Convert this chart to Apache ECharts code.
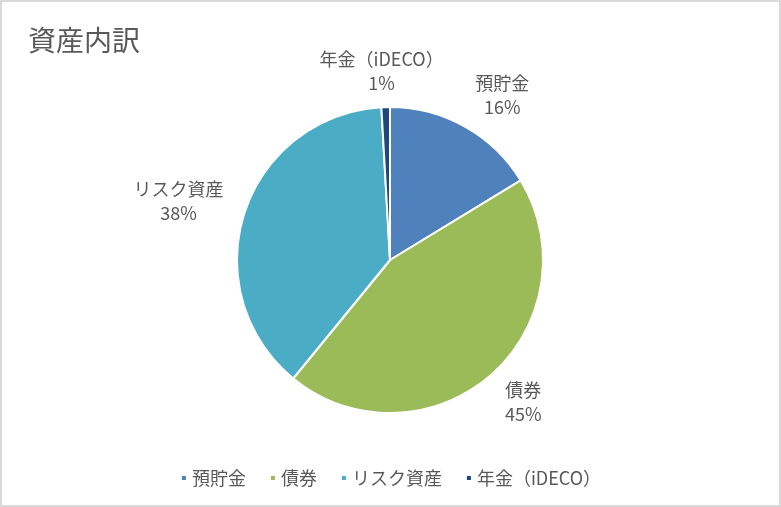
<!DOCTYPE html>
<html>
<head>
<meta charset="utf-8">
<script src="https://cdn.jsdelivr.net/npm/echarts@6/dist/echarts.min.js"></script>
<style>
  html, body { margin: 0; padding: 0; background: #fff; }
  #chart { width: 777px; height: 503px; border: 2px solid #d9d9d9; }
</style>
</head>
<body>
<div id="chart"></div>
<script>
// 資産内訳のデータ
const categories = ['預貯金', '債券', 'リスク資産', '年金（iDECO）'];
const values = [16.3, 44.6, 38.2, 0.9];
const colors = ['#4f81bd', '#9bbb59', '#4bacc6', '#1f497d'];

const font = '"Noto Sans CJK JP", "Noto Sans", sans-serif';
const cx = 388, cy = 258, r = 153;

const total = values.reduce((a, b) => a + b, 0);
// 各スライスの中心角（12時から時計回り）
let acc = 0;
const midAngles = values.map(v => {
    const m = (acc + v / 2) / total * Math.PI * 2;
    acc += v;
    return m;
});

const pieData = categories.map((name, i) => ({
    name: name,
    value: values[i],
    itemStyle: { color: colors[i] }
}));

const clamp = v => Math.max(-1, Math.min(1, v));

var myChart = echarts.init(document.getElementById('chart'));
option = {
    animation: false,
    title: {
        text: '資産内訳',
        left: 21,
        top: 19,
        textStyle: {
            fontFamily: font,
            fontSize: 28,
            fontWeight: 'normal',
            color: '#595959'
        }
    },
    legend: {
        bottom: 13,
        left: 'center',
        icon: 'rect',
        itemWidth: 6,
        itemHeight: 6,
        itemGap: 23,
        textStyle: {
            fontFamily: font,
            fontSize: 18,
            color: '#595959'
        },
        data: categories
    },
    series: [{
        type: 'pie',
        center: [cx, cy],
        radius: r,
        startAngle: 90,
        clockwise: true,
        avoidLabelOverlap: false,
        itemStyle: {
            borderColor: '#fff',
            borderWidth: 2
        },
        label: {
            show: true,
            position: 'outside',
            formatter: function (p) {
                return p.name + '\n' + Math.round(p.percent) + '%';
            },
            fontFamily: font,
            fontSize: 18,
            lineHeight: 24,
            color: '#595959'
        },
        labelLine: { show: false, length: 10, length2: 0 },
        // Excel風の「自動調整」配置：円の外側に中央揃えで置く
        labelLayout: function (params) {
            const a = midAngles[params.dataIndex];
            const s = Math.sin(a), c = Math.cos(a);
            const w = params.labelRect.width, h = params.labelRect.height;
            return {
                x: cx + (r + 22) * s + w / 2 * clamp(s * 2),
                y: cy - (r + 12) * c - h / 2 * c,
                align: 'center',
                verticalAlign: 'middle'
            };
        },
        data: pieData
    }]
};
myChart.setOption(option);
</script>
</body>
</html>
